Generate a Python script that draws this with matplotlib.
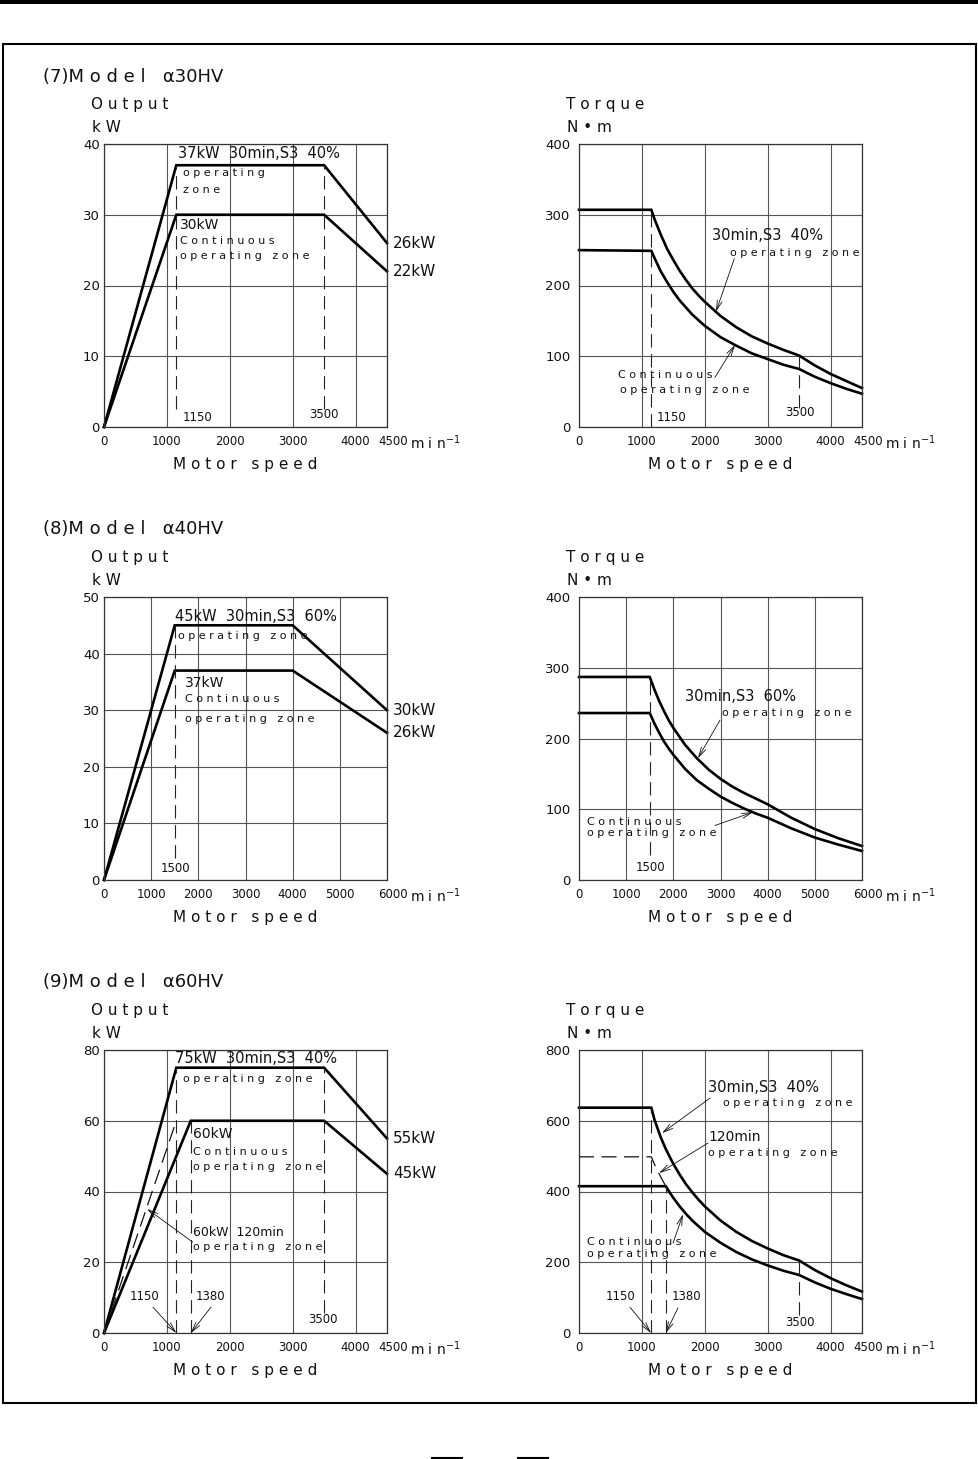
import matplotlib.pyplot as plt
from matplotlib.patches import Rectangle
from matplotlib.lines import Line2D
from matplotlib.transforms import ScaledTranslation

plt.rcParams["font.family"] = ["DejaVu Sans"]

# ---- values ----
# (7) alpha30HV output, kW
a30_s3_speed = [0, 1150, 3500, 4500]
a30_s3_kw = [0, 37, 37, 26]
a30_cont_speed = [0, 1150, 3500, 4500]
a30_cont_kw = [0, 30, 30, 22]
a30_marks = [1150, 3500]
# (7) alpha30HV torque, N.m
a30_trq_speed = [0, 1150, 1200, 1300, 1400, 1500, 1600, 1700, 1800, 1900, 2000,
                 2250, 2500, 2750, 3000, 3250, 3500, 3750, 4000, 4250, 4500]
a30_trq_s3 = [307, 307, 294, 272, 252, 236, 221, 208, 196, 186, 177,
              157, 141, 128, 118, 109, 101, 87, 75, 65, 55]
a30_trq_cont = [250, 249, 239, 220, 205, 191, 179, 169, 159, 151, 143,
                127, 115, 104, 96, 88, 82, 71, 62, 54, 47]

# (8) alpha40HV output, kW
a40_s3_speed = [0, 1500, 4000, 6000]
a40_s3_kw = [0, 45, 45, 30]
a40_cont_speed = [0, 1500, 4000, 6000]
a40_cont_kw = [0, 37, 37, 26]
a40_marks = [1500]
# (8) alpha40HV torque
a40_trq_speed = [0, 1500, 1600, 1700, 1800, 1900, 2000, 2250, 2500, 2750, 3000,
                 3250, 3500, 3750, 4000, 4500, 5000, 5500, 6000]
a40_trq_s3 = [287, 287, 269, 253, 239, 226, 215, 191, 172, 156, 143,
              132, 123, 115, 107, 88, 72, 59, 48]
a40_trq_cont = [236, 236, 221, 208, 196, 186, 177, 157, 141, 129, 118,
                109, 101, 94, 88, 73, 60, 50, 41]

# (9) alpha60HV output, kW
a60_s3_speed = [0, 1150, 3500, 4500]
a60_s3_kw = [0, 75, 75, 55]
a60_cont_speed = [0, 1380, 3500, 4500]
a60_cont_kw = [0, 60, 60, 45]
a60_120_speed = [0, 1150]
a60_120_kw = [0, 60]
a60_marks = [1150, 1380, 3500]
# (9) alpha60HV torque
a60_trq_s3_speed = [0, 1150, 1200, 1250, 1300, 1380, 1500, 1600, 1700, 1800, 1900, 2000,
                    2250, 2500, 2750, 3000, 3250, 3500, 3750, 4000, 4250, 4500]
a60_trq_s3 = [637, 637, 603, 578, 553, 520, 478, 448, 421, 398, 377, 358,
              318, 286, 260, 239, 220, 205, 178, 155, 135, 117]
a60_trq_cont_speed = [0, 1380, 1450, 1500, 1600, 1700, 1800, 1900, 2000, 2250, 2500,
                      2750, 3000, 3250, 3500, 3750, 4000, 4250, 4500]
a60_trq_cont = [415, 415, 395, 382, 358, 337, 318, 302, 286, 255, 229,
                208, 191, 176, 164, 143, 125, 110, 96]
a60_trq_120_speed = [0, 1150, 1200, 1250, 1300, 1380]
a60_trq_120 = [498, 498, 477, 458, 441, 415]

W, H = 979, 1459
INK = "#111111"
GRID = "#555555"


def fx(px):
    return px / W


def fy(py):
    return 1 - py / H


def frame(ax, xmax, ymax, ystep, name, unit, ypad):
    xt = list(range(0, xmax, 1000))
    if xt[-1] != xmax:
        xt.append(xmax)
    ax.set_xlim(0, xmax)
    ax.set_ylim(0, ymax)
    ax.set_xticks(xt)
    ax.set_yticks(list(range(0, ymax + 1, ystep)))
    ax.grid(True, color=GRID, lw=0.8)
    ax.set_axisbelow(True)
    ax.tick_params(length=0, colors=INK)
    ax.tick_params(axis="y", pad=ypad, labelsize=9.5)
    ax.tick_params(axis="x", pad=6, labelsize=8.5)
    # last speed label sits a little to the right, as on the sheet
    last = ax.get_xticklabels()[-1]
    last.set_transform(last.get_transform() +
                       ScaledTranslation(0.06, 0, fig.dpi_scale_trans))
    for s in ax.spines.values():
        s.set_color("#333333")
        s.set_linewidth(0.9)
    ax.text(-0.045, 1.138, name, transform=ax.transAxes, fontsize=11,
            va="center", ha="left", color=INK)
    ax.text(-0.042, 1.06, unit, transform=ax.transAxes, fontsize=11,
            va="center", ha="left", color=INK)
    ax.text(1.08, -0.055, "m i n$^{-1}$", transform=ax.transAxes, fontsize=10,
            va="center", ha="left", color=INK)
    ax.text(0.5, -0.134, "M o t o r   s p e e d", transform=ax.transAxes,
            fontsize=11, va="center", ha="center", color=INK)


def curve(ax, x, y, dashed=False):
    if dashed:
        ax.plot(x, y, color=INK, lw=0.9, dashes=(12, 6), clip_on=False)
    else:
        ax.plot(x, y, color="k", lw=1.9, solid_joinstyle="miter", clip_on=False)


def mark(ax, s, lo, hi):
    ax.plot([s, s], [lo, hi], color="#222222", lw=0.8, dashes=(12, 6))


def label(ax, x, y, txt, size=8, ha="left"):
    ax.text(x, y, txt, fontsize=size, ha=ha, va="center", color=INK)


def arrow(ax, tail, tip):
    ax.annotate("", xy=tip, xytext=tail,
                arrowprops=dict(arrowstyle="->,head_length=0.7,head_width=0.18",
                                lw=0.6, color=INK, shrinkA=0, shrinkB=0))


fig = plt.figure(figsize=(W / 100, H / 100), dpi=100)

AW, AH = 283 / W, 283 / H
lefts = [fx(104), fx(579)]
bottoms = [fy(427), fy(880), fy(1333)]

# ---------------- (7) alpha30HV ----------------
fig.text(fx(43), fy(77), "(7)M o d e l   α30HV", fontsize=13, va="center", color=INK)
ax = fig.add_axes([lefts[0], bottoms[0], AW, AH])
frame(ax, 4500, 40, 10, "O u t p u t", "k W", 3)
curve(ax, a30_s3_speed, a30_s3_kw)
curve(ax, a30_cont_speed, a30_cont_kw)
mark(ax, a30_marks[0], 2.5, a30_s3_kw[1])
mark(ax, a30_marks[1], 2.5, a30_s3_kw[2])
label(ax, 1177, 38.6, "37kW  30min,S3  40%", 10.5)
label(ax, 1256, 35.9, "o p e r a t i n g")
label(ax, 1256, 33.5, "z o n e")
label(ax, 1208, 28.6, "30kW", 10)
label(ax, 1208, 26.3, "C o n t i n u o u s")
label(ax, 1208, 24.2, "o p e r a t i n g   z o n e")
label(ax, 4600, a30_s3_kw[-1], "26kW", 11)
label(ax, 4600, a30_cont_kw[-1], "22kW", 11)
label(ax, 1256, 1.4, "1150", 8.5)
label(ax, 3490, 1.7, "3500", 8.5, ha="center")

ax = fig.add_axes([lefts[1], bottoms[0], AW, AH])
frame(ax, 4500, 400, 100, "T o r q u e", "N • m", 6)
curve(ax, a30_trq_speed, a30_trq_s3)
curve(ax, a30_trq_speed, a30_trq_cont)
mark(ax, a30_marks[0], 0, a30_trq_s3[1])
mark(ax, a30_marks[1], 27, 100)
label(ax, 2115, 271, "30min,S3  40%", 10.5)
label(ax, 2401, 246, "o p e r a t i n g   z o n e")
arrow(ax, (2470, 238), (2178, 163))
label(ax, 620, 73.5, "C o n t i n u o u s")
label(ax, 652, 52.3, "o p e r a t i n g   z o n e")
arrow(ax, (2160, 70), (2480, 116))
label(ax, 1240, 14.1, "1150", 8.5)
label(ax, 3514, 19.8, "3500", 8.5, ha="center")

# ---------------- (8) alpha40HV ----------------
fig.text(fx(43), fy(529), "(8)M o d e l   α40HV", fontsize=13, va="center", color=INK)
ax = fig.add_axes([lefts[0], bottoms[1], AW, AH])
frame(ax, 6000, 50, 10, "O u t p u t", "k W", 3)
curve(ax, a40_s3_speed, a40_s3_kw)
curve(ax, a40_cont_speed, a40_cont_kw)
mark(ax, a40_marks[0], 3.9, a40_s3_kw[1])
label(ax, 1505, 46.6, "45kW  30min,S3  60%", 10.5)
label(ax, 1569, 43.1, "o p e r a t i n g   z o n e")
label(ax, 1717, 34.8, "37kW", 10)
label(ax, 1717, 32.0, "C o n t i n u o u s")
label(ax, 1717, 28.4, "o p e r a t i n g   z o n e")
label(ax, 6130, a40_s3_kw[-1], "30kW", 11)
label(ax, 6130, a40_cont_kw[-1], "26kW", 11)
label(ax, 1505, 2.1, "1500", 8.5, ha="center")

ax = fig.add_axes([lefts[1], bottoms[1], AW, AH])
frame(ax, 6000, 400, 100, "T o r q u e", "N • m", 6)
curve(ax, a40_trq_speed, a40_trq_s3)
curve(ax, a40_trq_speed, a40_trq_cont)
mark(ax, a40_marks[0], 35, a40_trq_s3[1])
label(ax, 2247, 260, "30min,S3  60%", 10.5)
label(ax, 3032, 236, "o p e r a t i n g   z o n e")
arrow(ax, (2990, 226), (2520, 172))
label(ax, 170, 82, "C o n t i n u o u s")
label(ax, 170, 66.4, "o p e r a t i n g   z o n e")
arrow(ax, (2880, 77), (3690, 96))
label(ax, 1526, 17, "1500", 8.5, ha="center")

# ---------------- (9) alpha60HV ----------------
fig.text(fx(43), fy(982), "(9)M o d e l   α60HV", fontsize=13, va="center", color=INK)
ax = fig.add_axes([lefts[0], bottoms[2], AW, AH])
frame(ax, 4500, 80, 20, "O u t p u t", "k W", 3)
curve(ax, a60_s3_speed, a60_s3_kw)
curve(ax, a60_cont_speed, a60_cont_kw)
curve(ax, a60_120_speed, a60_120_kw, dashed=True)
mark(ax, a60_marks[0], 0, a60_s3_kw[1])
mark(ax, a60_marks[1], 0, a60_cont_kw[1])
mark(ax, a60_marks[2], 5.6, a60_s3_kw[2])
label(ax, 1129, 77.5, "75kW  30min,S3  40%", 10.5)
label(ax, 1256, 71.8, "o p e r a t i n g   z o n e")
label(ax, 1415, 56.3, "60kW", 10)
label(ax, 1415, 51.2, "C o n t i n u o u s")
label(ax, 1415, 46.9, "o p e r a t i n g   z o n e")
label(ax, 1415, 28.3, "60kW  120min", 9)
label(ax, 1415, 24.3, "o p e r a t i n g   z o n e")
arrow(ax, (1410, 25.7), (684, 35.1))
label(ax, 4600, a60_s3_kw[-1], "55kW", 11)
label(ax, 4600, a60_cont_kw[-1], "45kW", 11)
label(ax, 652, 10.2, "1150", 8.5, ha="center")
label(ax, 1701, 10.2, "1380", 8.5, ha="center")
arrow(ax, (779, 7.3), (1150, 0))
arrow(ax, (1701, 7.3), (1380, 0))
label(ax, 3482, 3.7, "3500", 8.5, ha="center")

ax = fig.add_axes([lefts[1], bottoms[2], AW, AH])
frame(ax, 4500, 800, 200, "T o r q u e", "N • m", 6)
curve(ax, a60_trq_s3_speed, a60_trq_s3)
curve(ax, a60_trq_cont_speed, a60_trq_cont)
curve(ax, a60_trq_120_speed, a60_trq_120, dashed=True)
mark(ax, a60_marks[0], 0, a60_trq_s3[1])
mark(ax, a60_marks[1], 0, a60_trq_cont[1])
mark(ax, a60_marks[2], 51, 205)
label(ax, 2051, 695, "30min,S3  40%", 10.5)
label(ax, 2290, 650, "o p e r a t i n g   z o n e")
arrow(ax, (2083, 664), (1320, 565))
label(ax, 2051, 554, "120min", 10)
label(ax, 2051, 509, "o p e r a t i n g   z o n e")
arrow(ax, (2051, 537), (1272, 452))
label(ax, 127, 257, "C o n t i n u o u s")
label(ax, 127, 223, "o p e r a t i n g   z o n e")
arrow(ax, (1495, 254), (1654, 336))
label(ax, 668, 102, "1150", 8.5, ha="center")
label(ax, 1717, 102, "1380", 8.5, ha="center")
arrow(ax, (811, 73), (1145, 0))
arrow(ax, (1574, 71), (1380, 0))
label(ax, 3514, 31, "3500", 8.5, ha="center")

# ---------------- page furniture ----------------
fig.add_artist(Rectangle((0, fy(4)), 1, 4 / H, transform=fig.transFigure,
                         color="k", lw=0))
fig.add_artist(Rectangle((fx(3), fy(1402.5)), fx(976) - fx(3), (1402.5 - 44) / H,
                         transform=fig.transFigure, fill=False, ec="k", lw=1.5))
for x0, x1 in [(432, 462), (518, 548)]:
    fig.add_artist(Line2D([fx(x0), fx(x1)], [fy(1458), fy(1458)],
                          transform=fig.transFigure, color="k", lw=1.5))

fig.savefig("out.png", dpi=100)
